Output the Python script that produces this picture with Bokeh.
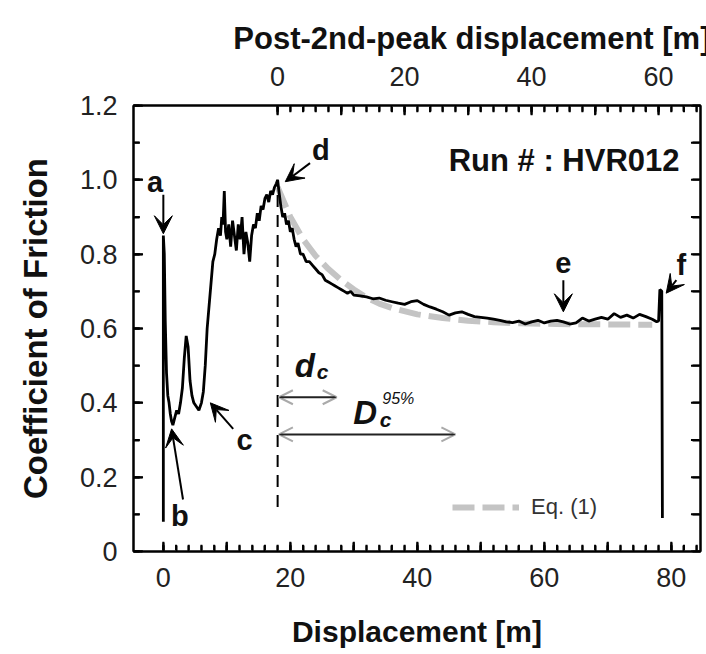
from bokeh.plotting import figure
from bokeh.models import (Range1d, LinearAxis, FixedTicker, Arrow, VeeHead, OpenHead,
                          Label, Title, Legend, LegendItem, CustomJSTickFormatter, PrintfTickFormatter)
from bokeh.embed import file_html
from bokeh.resources import INLINE

# ---------------- data ----------------
disp = [0.0, 0.0, 0.15, 0.3, 0.5, 0.7, 0.9, 1.1, 1.3, 1.5, 1.8, 2.1, 2.4, 2.7, 3.0, 3.3, 3.6, 3.9,
        4.2, 4.5, 4.8, 5.2, 5.6, 6.0, 6.3, 6.6, 6.9, 7.2, 7.5, 7.8, 8.1, 8.4, 8.7, 9.0, 9.2, 9.4,
        9.6, 9.8, 10.0, 10.3, 10.6, 10.9, 11.2, 11.5, 11.8, 12.1, 12.4, 12.7, 13.0, 13.3, 13.6,
        13.9, 14.2, 14.5, 14.8, 15.1, 15.4, 15.7, 16.0, 16.3, 16.6, 16.9, 17.2, 17.5, 17.8, 18.0,
        18.2, 18.5, 18.8, 19.1, 19.4, 19.7, 20.0, 20.3, 20.6, 20.9, 21.2, 21.6, 22.0, 22.5, 23.0,
        23.5, 24.0, 24.5, 25.0, 25.5, 26.0, 26.5, 27.0, 27.5, 28.0, 28.5, 29.0, 29.5, 30.0, 31.0,
        32.0, 33.0, 34.0, 35.0, 36.0, 37.0, 38.0, 39.0, 40.0, 41.0, 42.0, 43.0, 44.0, 45.0, 46.0,
        47.0, 48.0, 49.0, 50.0, 51.0, 52.0, 53.0, 54.0, 55.0, 56.0, 57.0, 58.0, 59.0, 60.0, 61.0,
        62.0, 63.0, 64.0, 65.0, 66.0, 67.0, 68.0, 69.0, 70.0, 71.0, 72.0, 73.0, 74.0, 75.0, 76.0,
        77.0, 77.7, 78.0, 78.2, 78.5, 78.6]
mu = [0.08, 0.85, 0.80, 0.62, 0.48, 0.42, 0.40, 0.37, 0.35, 0.34, 0.36, 0.38, 0.37, 0.40, 0.44,
      0.52, 0.58, 0.55, 0.46, 0.42, 0.40, 0.39, 0.38, 0.40, 0.43, 0.50, 0.60, 0.66, 0.72, 0.78,
      0.80, 0.84, 0.87, 0.85, 0.90, 0.88, 0.97, 0.86, 0.84, 0.88, 0.82, 0.89, 0.85, 0.81, 0.88,
      0.84, 0.90, 0.80, 0.86, 0.83, 0.78, 0.85, 0.88, 0.87, 0.91, 0.89, 0.93, 0.92, 0.95, 0.96,
      0.94, 0.97, 0.96, 0.98, 0.99, 1.00, 0.97, 0.93, 0.90, 0.91, 0.88, 0.89, 0.86, 0.87, 0.84,
      0.82, 0.83, 0.80, 0.80, 0.78, 0.78, 0.77, 0.76, 0.75, 0.745, 0.73, 0.725, 0.72, 0.715, 0.71,
      0.705, 0.70, 0.695, 0.70, 0.69, 0.688, 0.685, 0.68, 0.682, 0.676, 0.672, 0.668, 0.665, 0.672,
      0.675, 0.665, 0.658, 0.652, 0.645, 0.636, 0.642, 0.645, 0.638, 0.632, 0.63, 0.628, 0.625,
      0.622, 0.618, 0.616, 0.62, 0.612, 0.618, 0.622, 0.615, 0.62, 0.622, 0.618, 0.612, 0.615,
      0.628, 0.62, 0.625, 0.63, 0.625, 0.64, 0.63, 0.636, 0.628, 0.638, 0.632, 0.625, 0.618, 0.62,
      0.705, 0.70, 0.09]

eq_disp = [18, 20, 22, 24, 26, 28, 30, 32, 34, 36, 40, 44, 48, 52, 56, 62, 70, 77]
eq_mu = [0.98, 0.90, 0.84, 0.795, 0.76, 0.73, 0.705, 0.683, 0.667, 0.655, 0.638, 0.628, 0.621,
         0.617, 0.614, 0.612, 0.611, 0.61]

peak_disp = 18.0          # 2nd peak (d) -> origin of the top axis
peak_line_mu = [0.12, 1.0]
dc_end = 27.3             # d_c arrow end (displacement)
Dc95_end = 46.0           # D_c^95% arrow end (displacement)

x_lo, x_hi = -4.7, 84.6
y_lo, y_hi = 0.0, 1.2
x_ticks = [0, 10, 20, 30, 40, 50, 60, 70, 80]
x_minor = list(range(0, 86, 2))
top_ticks = [0, 10, 20, 30, 40, 50, 60]
top_minor = list(range(0, 68, 2))
y_ticks = [0, 0.2, 0.4, 0.6, 0.8, 1.0, 1.2]
y_minor = [0, 0.1, 0.2, 0.3, 0.4, 0.5, 0.6, 0.7, 0.8, 0.9, 1.0, 1.1, 1.2]

FONT = "Liberation Sans"

# ---------------- figure ----------------
p = figure(width=706, height=654, x_range=Range1d(x_lo, x_hi), y_range=Range1d(y_lo, y_hi),
           output_backend="svg", toolbar_location=None,
           min_border_left=133, min_border_right=6, min_border_top=105, min_border_bottom=103)
p.xgrid.visible = False
p.ygrid.visible = False
p.outline_line_color = "black"
p.outline_line_width = 2
p.background_fill_color = "white"
p.border_fill_color = "white"

def style_axis(ax, label_size="27px"):
    ax.axis_line_width = 2
    ax.axis_line_color = "black"
    ax.major_tick_in = 9
    ax.major_tick_out = 0
    ax.minor_tick_in = 6
    ax.minor_tick_out = 0
    ax.major_tick_line_width = 2
    ax.minor_tick_line_width = 2
    ax.major_tick_line_color = "black"
    ax.minor_tick_line_color = "black"
    ax.major_label_text_font = FONT
    ax.major_label_text_font_size = label_size
    ax.major_label_text_color = "#222222"
    ax.axis_label_text_font = FONT
    ax.axis_label_text_font_style = "bold"
    ax.axis_label_text_font_size = "30px"
    ax.axis_label_text_color = "#111111"

xa = p.xaxis[0]
style_axis(xa)
xa.ticker = FixedTicker(ticks=x_ticks, minor_ticks=x_minor)
xa.major_label_overrides = {10: "", 30: "", 50: "", 70: ""}
xa.axis_label = "Displacement [m]"
xa.major_label_standoff = 16
xa.axis_label_standoff = 25

ya = p.yaxis[0]
style_axis(ya)
ya.ticker = FixedTicker(ticks=y_ticks, minor_ticks=y_minor)
ya.formatter = PrintfTickFormatter(format="%.1f")
ya.major_label_overrides = {0: "0"}
ya.axis_label = "Coefficient of Friction"
ya.axis_label_text_font_size = "33px"
ya.major_label_standoff = 16
ya.axis_label_standoff = 23

p.extra_x_ranges = {"post": Range1d(x_lo - peak_disp, x_hi - peak_disp)}
top = LinearAxis(x_range_name="post")
style_axis(top)
top.ticker = FixedTicker(ticks=top_ticks, minor_ticks=top_minor)
top.major_label_overrides = {10: "", 30: "", 50: ""}
top.major_label_standoff = 20
p.add_layout(top, "above")

right = LinearAxis()
style_axis(right)
right.ticker = FixedTicker(ticks=y_minor, minor_ticks=[])
right.formatter = CustomJSTickFormatter(code="return ''")
right.major_tick_in = 8
right.major_label_standoff = 0
p.add_layout(right, "right")

p.add_layout(Title(text="Post-2nd-peak displacement [m]", align="right", offset=-10,
                   text_font=FONT, text_font_size="31px", text_font_style="bold",
                   text_color="#111111", standoff=16), "above")

# ---------------- inward tick marks, also drawn as short segments just inside the frame --
EPS_Y, EPS_X = 0.004, 0.15
TY_MAJ, TY_MIN = 0.026, 0.018     # tick lengths in y units (~9 px / ~6 px)
TX_MAJ, TX_MIN = 1.5, 1.0         # tick lengths in x units
tk = dict(line_color="black", line_width=2)
p.segment(x0=x_minor, y0=[y_lo + EPS_Y] * len(x_minor), x1=x_minor,
          y1=[y_lo + TY_MIN] * len(x_minor), **tk)
p.segment(x0=x_ticks, y0=[y_lo + EPS_Y] * len(x_ticks), x1=x_ticks,
          y1=[y_lo + TY_MAJ] * len(x_ticks), **tk)
top_minor_x = [t + peak_disp for t in top_minor]
top_ticks_x = [t + peak_disp for t in top_ticks]
p.segment(x0=top_minor_x, y0=[y_hi - EPS_Y] * len(top_minor_x), x1=top_minor_x,
          y1=[y_hi - TY_MIN] * len(top_minor_x), **tk)
p.segment(x0=top_ticks_x, y0=[y_hi - EPS_Y] * len(top_ticks_x), x1=top_ticks_x,
          y1=[y_hi - TY_MAJ] * len(top_ticks_x), **tk)
p.segment(x0=[x_lo + EPS_X] * len(y_minor), y0=y_minor, x1=[x_lo + TX_MIN] * len(y_minor),
          y1=y_minor, **tk)
p.segment(x0=[x_lo + EPS_X] * len(y_ticks), y0=y_ticks, x1=[x_lo + TX_MAJ] * len(y_ticks),
          y1=y_ticks, **tk)
p.segment(x0=[x_hi - EPS_X] * len(y_minor), y0=y_minor, x1=[x_hi - TX_MAJ] * len(y_minor),
          y1=y_minor, **tk)

# ---------------- data marks ----------------
eq = p.line(eq_disp, eq_mu, line_color="#c4c4c4", line_width=6, line_dash="22 8")
p.line(disp, mu, line_color="black", line_width=2.8)
p.line([peak_disp, peak_disp], peak_line_mu, line_color="black", line_width=2, line_dash="12 8")

legend = Legend(items=[LegendItem(label="Eq. (1)", renderers=[eq])], location=(319, 31),
                glyph_width=67, glyph_height=20, padding=0, margin=0, label_standoff=12,
                border_line_color=None, background_fill_alpha=0,
                label_text_font=FONT, label_text_font_size="22px", label_text_color="#333333")
p.add_layout(legend)

# ---------------- annotations ----------------
def head():
    return VeeHead(size=18, fill_color="black", line_color="black")

arrows = [(0.0, 0.96, 0.0, 0.855), (3.1, 0.14, 1.3, 0.33), (11.0, 0.33, 7.4, 0.40),
          (23.1, 1.045, 19.2, 0.995), (63.0, 0.73, 63.0, 0.645), (80.8, 0.73, 79.2, 0.695)]
for xs, ys, xe, ye in arrows:
    p.add_layout(Arrow(end=head(), x_start=xs, y_start=ys, x_end=xe, y_end=ye,
                       line_color="black", line_width=2))

letters = [("a", -1.3, 0.995), ("b", 2.6, 0.095), ("c", 12.8, 0.30), ("d", 24.8, 1.08),
           ("e", 63.0, 0.775), ("f", 81.6, 0.77)]
for t, lx, ly in letters:
    p.add_layout(Label(x=lx, y=ly, text=t, text_align="center", text_baseline="middle",
                       text_font=FONT, text_font_style="bold", text_font_size="29px",
                       text_color="#111111"))

p.add_layout(Label(x=81.3, y=1.052, text="Run # : HVR012", text_align="right",
                   text_baseline="middle", text_font=FONT, text_font_style="bold",
                   text_font_size="31px", text_color="#111111"))

for x_end, y_arr in [(dc_end, 0.415), (Dc95_end, 0.315)]:
    p.add_layout(Arrow(start=OpenHead(size=14, line_color="#aaaaaa", line_width=2),
                       end=OpenHead(size=14, line_color="#aaaaaa", line_width=2),
                       x_start=peak_disp + 0.2, y_start=y_arr, x_end=x_end, y_end=y_arr,
                       line_color="#222222", line_width=2))

p.add_layout(Label(x=22.3, y=0.50, text="d", text_align="center", text_baseline="middle",
                   text_font=FONT, text_font_style="bold italic", text_font_size="33px",
                   text_color="#111111"))
p.add_layout(Label(x=25.1, y=0.485, text="c", text_align="center", text_baseline="middle",
                   text_font=FONT, text_font_style="bold italic", text_font_size="21px",
                   text_color="#111111"))
p.add_layout(Label(x=31.8, y=0.374, text="D", text_align="center", text_baseline="middle",
                   text_font=FONT, text_font_style="bold italic", text_font_size="33px",
                   text_color="#111111"))
p.add_layout(Label(x=35.0, y=0.356, text="c", text_align="center", text_baseline="middle",
                   text_font=FONT, text_font_style="bold italic", text_font_size="21px",
                   text_color="#111111"))
p.add_layout(Label(x=37.0, y=0.412, text="95%", text_align="center", text_baseline="middle",
                   text_font=FONT, text_font_style="italic", text_font_size="16px",
                   text_color="#111111"))

open("out.html", "w").write(file_html(p, INLINE))
